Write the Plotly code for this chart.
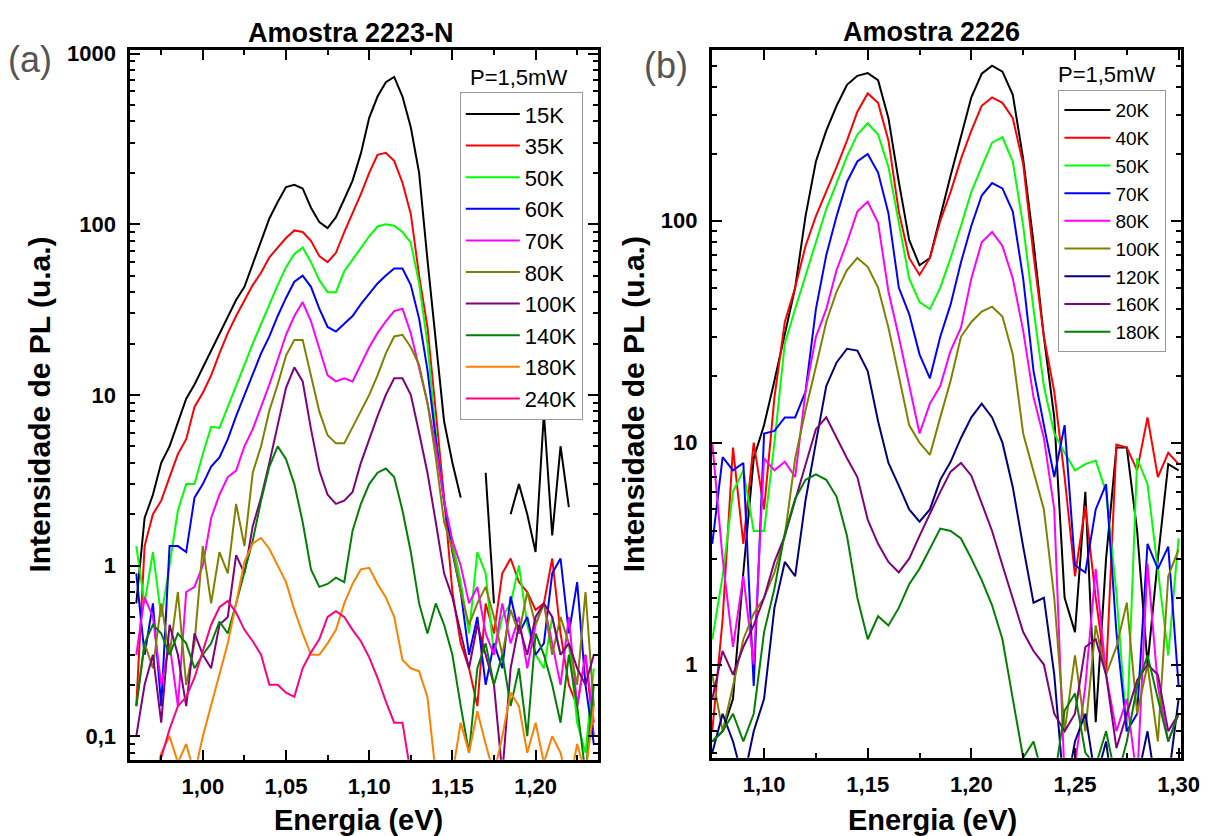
import plotly.graph_objects as go
import math

# ---------------- Panel (a): Amostra 2223-N ----------------
E_A = [0.960, 0.965, 0.970, 0.975, 0.980, 0.985, 0.990, 0.995, 1.000, 1.005,
       1.010, 1.015, 1.020, 1.025, 1.030, 1.035, 1.040, 1.045, 1.050, 1.055,
       1.060, 1.065, 1.070, 1.075, 1.080, 1.085, 1.090, 1.095, 1.100, 1.105,
       1.110, 1.115, 1.120, 1.125, 1.130, 1.135, 1.140, 1.145, 1.150, 1.155,
       1.160, 1.165, 1.170, 1.175, 1.180, 1.185, 1.190, 1.195, 1.200, 1.205,
       1.210, 1.215, 1.220, 1.225, 1.230, 1.235]

A_15K = [0.6, 1.9, 2.6, 4.0, 5.0, 7.0, 9.5, 11.5, 14.5, 18,
         23, 29, 36, 43, 58, 80, 108, 135, 165, 170,
         162, 125, 103, 95, 110, 140, 180, 260, 420, 560,
         680, 730, 560, 370, 200, 62, 20, 7, 4, 2.5,
         None, None, 3.5, 0.6, None, 2.0, 3.0, 2.0, 1.2, 7.8,
         1.5, 5.0, 2.2, None, None, 12]
A_35K = [0.15, 1.3, 2.0, 2.4, 3.3, 4.5, 5.5, 8.5, 10.3, 13,
         17.5, 23, 29, 36, 44, 52, 64, 73, 83, 92,
         90, 80, 65, 60, 68, 90, 115, 150, 200, 255,
         262, 235, 175, 115, 50, 25, 8, 2.5, 0.7, 0.35,
         0.25, 0.15, 0.6, 0.4, 0.9, 1.1, 0.8, 0.7, 0.55, 0.6,
         1.1, 0.4, 0.2, 0.15, 0.3, 0.1]
A_50K = [1.3, 0.6, 1.2, 0.5, 1.0, 2.1, 3.0, 3.0, 4.5, 6.5,
         6.4, 8.5, 11, 15, 20, 26, 34, 44, 56, 67,
         73, 60, 47, 40, 40, 53, 62, 72, 85, 97,
         100, 98, 90, 78, 45, 20, 6, 2.3, 1.4, 0.8,
         0.4, 1.2, 0.9, 0.3, 0.5, 0.6, 1.0, 0.45, 0.3, 0.25,
         0.5, 0.3, 0.35, 0.12, 0.08, 0.25]
A_60K = [0.9, 0.3, 0.6, 0.15, 1.3, 1.3, 1.2, 2.5, 3.0, 3.8,
         4.3, 5.5, 7.5, 10, 13, 17.5, 22, 29, 37, 46,
         50, 43, 32, 25, 23.5, 26, 29, 34, 39, 45,
         50, 55, 55, 44, 28, 14, 5.5, 2.4, 1.2, 0.7,
         0.3, 0.5, 0.2, 0.35, 0.25, 0.66, 0.4, 0.5, 0.3, 0.35,
         0.9, 1.1, 0.4, 0.8, 0.2, 0.09]
A_70K = [0.3, 0.65, 0.5, 0.2, 0.35, 0.15, 0.7, 0.75, 1.0, 1.9,
         2.6, 3.3, 3.6, 5.0, 6.3, 8.5, 11.5, 16, 22.5, 29,
         35, 27, 19, 13, 12, 12.5, 12, 15, 19, 23,
         27, 31, 32, 23, 14.5, 9, 5, 2.4, 1.4, 1.0,
         0.6, 0.75, 0.4, 0.3, 0.6, 0.35, 0.5, 0.25, 0.45, 0.6,
         0.35, 0.2, 0.5, 0.15, 0.3, 0.12]
A_80K = [0.15, 0.35, 0.25, 0.6, 0.3, 0.7, 0.2, 0.35, 1.3, 0.6,
         1.2, 0.9, 2.3, 1.3, 3.5, 5.0, 8.1, 11.5, 17, 21,
         21, 13, 8, 5.8, 5.2, 5.2, 6.5, 8, 10, 13,
         17.5, 22, 22.5, 19, 15, 9, 4.3, 1.8, 1.25, 0.7,
         0.45, 0.6, 0.75, 0.5, 0.3, 0.55, 0.4, 0.7, 0.45, 0.6,
         0.3, 0.5, 0.35, 0.2, 0.7, 0.15]
A_100K = [0.1, 0.2, 0.3, 0.12, 0.45, 0.3, 0.15, 0.4, 0.3, 0.25,
          0.45, 0.5, 1.15, 0.9, 1.7, 2.5, 4.0, 6.5, 11, 14.5,
          12, 6.3, 3.6, 2.6, 2.3, 2.4, 2.7, 4.0, 5.5, 7.5,
          10, 12.5, 12.5, 10, 6, 3.5, 1.8, 0.9, 0.65, 0.4,
          0.25, 0.45, 0.3, 0.2, 0.06, 0.25, 0.45, 0.3, 0.5, 0.6,
          0.5, 0.3, 0.35, 0.25, 0.2, 0.3]
A_140K = [0.15, 0.35, 0.45, 0.4, 0.3, 0.4, 0.35, 0.25, 0.3, 0.35,
          0.47, 0.4, 0.6, 0.9, 1.4, 2.4, 3.8, 5.0, 4.2, 3.0,
          1.8, 0.95, 0.75, 0.78, 0.85, 0.8, 1.6, 2.3, 3.0, 3.5,
          3.7, 3.3, 2.1, 1.2, 0.6, 0.4, 0.6, 0.45, 0.3, 0.15,
          0.08, 0.25, 0.35, 0.2, 0.3, 0.15, 0.25, 0.1, 0.4, 0.3,
          0.2, 0.12, 0.3, 0.15, 0.06, 0.2]
A_180K = [None, None, 0.05, 0.08, 0.1, 0.07, 0.09, 0.06, 0.1, 0.15,
          0.23, 0.35, 0.6, 1.05, 1.35, 1.45, 1.25, 1.0, 0.8, 0.55,
          0.4, 0.3, 0.3, 0.35, 0.42, 0.6, 0.78, 0.95, 0.97, 0.78,
          0.65, 0.5, 0.28, 0.25, 0.24, 0.17, 0.06, None, 0.06, 0.12,
          0.08, 0.14, 0.09, 0.06, 0.1, 0.18, 0.15, 0.08, 0.12, 0.07,
          0.1, 0.08, 0.05, 0.09, 0.06, 0.15]
A_240K = [None, None, None, 0.075, 0.11, 0.15, 0.17, 0.22, 0.32, 0.45,
          0.57, 0.62, 0.53, 0.42, 0.36, 0.3, 0.2, 0.2, 0.18, 0.17,
          0.25, 0.31, 0.37, 0.5, 0.54, 0.5, 0.42, 0.36, 0.29, 0.22,
          0.16, 0.12, 0.12, 0.06, None, None, None, None, None, None,
          None, None, None, None, None, None, None, None, None, None,
          None, None, None, None, None, None]

SERIES_A = [("15K", A_15K), ("35K", A_35K), ("50K", A_50K), ("60K", A_60K),
            ("70K", A_70K), ("80K", A_80K), ("100K", A_100K), ("140K", A_140K),
            ("180K", A_180K), ("240K", A_240K)]
COLORS_A = ["#000000", "#ff0000", "#00ff00", "#0000ff", "#ff00ff",
            "#808000", "#800080", "#008000", "#ff8000", "#ff0080"]

# ---------------- Panel (b): Amostra 2226 ----------------
E_B = [1.075, 1.080, 1.085, 1.090, 1.095, 1.100, 1.105, 1.110, 1.115, 1.120,
       1.125, 1.130, 1.135, 1.140, 1.145, 1.150, 1.155, 1.160, 1.165, 1.170,
       1.175, 1.180, 1.185, 1.190, 1.195, 1.200, 1.205, 1.210, 1.215, 1.220,
       1.225, 1.230, 1.235, 1.240, 1.245, 1.250, 1.255, 1.260, 1.265, 1.270,
       1.275, 1.280, 1.285, 1.290, 1.295, 1.300]

B_20K = [0.45, 0.5, 0.7, 2.6, 8.5, 12, 19, 31, 50, 105,
         185, 255, 330, 410, 450, 463, 430, 290, 150, 82,
         63, 68, 105, 160, 240, 360, 460, 500, 470, 370,
         190, 80, 30, 13, 2, 1.4, 6, 0.55, 3, 9.5,
         9.5, 4, 1.0, 3.0, 8, 7.5]
B_40K = [0.5, 1.6, 9.5, 3.5, 10, 5, 16, 35, 50, 77,
         105, 135, 175, 230, 310, 375, 340, 230, 110, 68,
         57, 68, 100, 135, 190, 255, 330, 360, 340, 290,
         180, 70, 30, 17, 7, 2.5, 5.2, 2.0, 0.9, 9.8,
         9.5, 7.5, 13, 7, 9, 8]
B_50K = [1.3, 2.5, 6, 7.5, 4, 4, 10, 28, 40, 57,
         80, 113, 148, 195, 245, 275, 245, 175, 98, 55,
         43, 40, 50, 68, 95, 135, 175, 225, 238, 185,
         95, 40, 18, 11, 9, 7.5, 8, 8.3, 6, 2.1,
         0.5, 8.5, 6.5, 2.6, 1.1, 3.7]
B_70K = [3.5, 8.6, 7.5, 8.1, 0.8, 11, 11.3, 13, 13, 17,
         40, 70, 105, 150, 185, 200, 165, 108, 50, 38,
         25, 19.5, 30, 42, 65, 95, 130, 148, 140, 110,
         55, 21, 12, 7, 12, 2.8, 2.6, 5, 6.5, 1.4,
         0.5, 0.6, 3.5, 2.7, 3.4, 0.8]
B_80K = [10, 3, 1.2, 2.5, 1.0, 8.5, 7.5, 8.2, 7, 17,
         30, 40, 60, 80, 110, 122, 98, 48, 30, 18,
         11, 15, 18, 26, 33, 55, 80, 89, 77, 55,
         32, 16, 10.5, 5, 0.3, 0.35, 0.8, 2.7, 0.9, 0.5,
         0.7, 0.3, 2.85, 0.8, 0.45, 0.6]
B_100K = [0.9, 0.5, 0.8, 1.3, 1.7, 2.0, 2.6, 3.8, 8.5, 14,
          22, 35, 48, 60, 68, 62, 50, 33, 20, 12,
          10, 8.8, 13, 19, 30, 35, 39, 41, 37, 25,
          11, 7.5, 5, 2.0, 0.5, 1.1, 0.5, 1.5, 0.9, 1.2,
          1.9, 0.6, 1.0, 0.45, 2.5, 3.3]
B_120K = [0.4, 0.6, 0.45, 0.3, 0.5, 0.7, 1.8, 2.9, 2.5, 5.5,
          10, 18, 23, 26.5, 26, 21, 12.5, 8.1, 6.4, 5,
          4.4, 5, 6.8, 8.2, 10.5, 13, 15, 13, 10, 6.3,
          3.4, 1.9, 2.0, 0.9, 0.25, 0.45, 0.6, 0.3, 0.45, 0.2,
          0.35, 0.3, 0.5, 0.25, 0.3, 0.7]
B_160K = [0.7, 1.15, 0.9, 1.2, 1.5, 2.0, 2.9, 3.8, 5.5, 8,
          11.5, 13, 10.5, 8.5, 7, 4.5, 3.5, 2.9, 2.6, 3.0,
          3.8, 4.8, 6.0, 7.4, 8.1, 7.1, 5.3, 4.0, 2.8, 2.0,
          1.4, 1.15, 1.0, 0.6, 0.5, 0.6, 1.2, 1.3, 0.9, 0.42,
          0.6, 0.85, 1.0, 0.9, 0.5, 0.6]
B_180K = [0.45, 0.5, 0.6, 0.45, 0.6, 1.4, 2.2, 3.9, 5.6, 6.8,
          7.2, 6.8, 5.7, 3.8, 2.0, 1.3, 1.65, 1.5, 1.8, 2.3,
          2.7, 3.3, 4.1, 4.0, 3.7, 3.0, 2.4, 1.85, 1.3, 0.7,
          0.38, 0.45, 0.3, 0.3, 0.62, 0.74, 0.4, 0.35, 0.5, 0.3,
          0.45, 0.8, 1.1, 0.7, 0.45, 0.6]

SERIES_B = [("20K", B_20K), ("40K", B_40K), ("50K", B_50K), ("70K", B_70K),
            ("80K", B_80K), ("100K", B_100K), ("120K", B_120K), ("160K", B_160K),
            ("180K", B_180K)]
COLORS_B = ["#000000", "#ff0000", "#00ff00", "#0000ff", "#ff00ff",
            "#808000", "#000080", "#800080", "#008000"]

TICKS_A = [1.00, 1.05, 1.10, 1.15, 1.20]
TICKTEXT_A = ["1,00", "1,05", "1,10", "1,15", "1,20"]
TICKS_B = [1.10, 1.15, 1.20, 1.25, 1.30]
TICKTEXT_B = ["1,10", "1,15", "1,20", "1,25", "1,30"]
YTICKS_A = [0.1, 1, 10, 100, 1000]
YTICKTEXT_A = ["0,1", "1", "10", "100", "1000"]
YTICKS_B = [1, 10, 100]
YTICKTEXT_B = ["1", "10", "100"]

W, H = 1232, 836
FONT = "Arial, Liberation Sans, sans-serif"

fig = go.Figure()
for (name, vals), col in zip(SERIES_A, COLORS_A):
    fig.add_trace(go.Scatter(x=E_A, y=vals, mode="lines", name=name,
                             line=dict(color=col, width=2), xaxis="x", yaxis="y",
                             legend="legend"))
for (name, vals), col in zip(SERIES_B, COLORS_B):
    fig.add_trace(go.Scatter(x=E_B, y=vals, mode="lines", name=name,
                             line=dict(color=col, width=2), xaxis="x2", yaxis="y2",
                             legend="legend2"))

minor_y = [m * 10 ** e for e in range(-2, 4) for m in range(2, 10)]


def px_x(p):
    return p / W


def px_y(p):
    return 1 - p / H


axis_common = dict(showline=True, linewidth=3, linecolor="black", mirror="ticks",
                   ticks="inside", ticklen=10, tickwidth=2, tickcolor="black",
                   showgrid=False, zeroline=False,
                   tickfont=dict(family=FONT, size=22, color="black", weight="bold"))

fig.update_layout(
    width=W, height=H, margin=dict(l=0, r=0, t=0, b=0),
    paper_bgcolor="white", plot_bgcolor="white",
    xaxis=dict(domain=[px_x(132.5), px_x(607)], range=[0.9565, 1.2373], anchor="y",
               tickmode="array", tickvals=TICKS_A, ticktext=TICKTEXT_A,
               minor=dict(tickmode="array", tickvals=[0.975, 1.025, 1.075, 1.125, 1.175, 1.225],
                          ticks="inside", ticklen=5, tickwidth=2, tickcolor="black"),
               ticklabelstandoff=5, **axis_common),
    yaxis=dict(domain=[px_y(759), px_y(42)], type="log",
               range=[math.log10(0.0728), math.log10(1055)], anchor="x",
               tickmode="array", tickvals=YTICKS_A, ticktext=YTICKTEXT_A,
               minor=dict(tickmode="array", tickvals=minor_y, ticks="inside",
                          ticklen=5, tickwidth=2, tickcolor="black"),
               ticklabelstandoff=7, **axis_common),
    xaxis2=dict(domain=[px_x(723), px_x(1199.6)], range=[1.0748, 1.3012], anchor="y2",
                tickmode="array", tickvals=TICKS_B, ticktext=TICKTEXT_B,
                minor=dict(tickmode="array", tickvals=[1.075, 1.125, 1.175, 1.225, 1.275],
                           ticks="inside", ticklen=5, tickwidth=2, tickcolor="black"),
                ticklabelstandoff=5, **axis_common),
    yaxis2=dict(domain=[px_y(757), px_y(42)], type="log",
                range=[math.log10(0.38), math.log10(591)], anchor="x2",
                tickmode="array", tickvals=YTICKS_B, ticktext=YTICKTEXT_B,
                minor=dict(tickmode="array", tickvals=minor_y, ticks="inside",
                           ticklen=5, tickwidth=2, tickcolor="black"),
                ticklabelstandoff=7, **axis_common),
    legend=dict(x=px_x(467), y=px_y(85), xanchor="left", yanchor="top",
                bgcolor="white", bordercolor="#999999", borderwidth=1,
                font=dict(family=FONT, size=22, color="black"),
                itemwidth=54, tracegroupgap=0),
    legend2=dict(x=px_x(1075), y=px_y(83), xanchor="left", yanchor="top",
                 bgcolor="white", bordercolor="#999999", borderwidth=1,
                 font=dict(family=FONT, size=19, color="black"),
                 itemwidth=46, tracegroupgap=0),
)

ann = [
    dict(text="Amostra 2223-N", x=px_x(356), y=px_y(25), size=27, bold=True, color="black"),
    dict(text="Amostra 2226", x=px_x(946), y=px_y(24), size=27, bold=True, color="black"),
    dict(text="(a)", x=px_x(30), y=px_y(52), size=36, bold=False, color="#555555"),
    dict(text="(b)", x=px_x(676), y=px_y(58), size=36, bold=False, color="#555555"),
    dict(text="P=1,5mW", x=px_x(527), y=px_y(70), size=22, bold=False, color="black"),
    dict(text="P=1,5mW", x=px_x(1124), y=px_y(67), size=22, bold=False, color="black"),
    dict(text="Energia (eV)", x=px_x(364), y=px_y(820), size=29, bold=True, color="black"),
    dict(text="Energia (eV)", x=px_x(947), y=px_y(820), size=29, bold=True, color="black"),
]
for a in ann:
    fig.add_annotation(text=a["text"], x=a["x"], y=a["y"], xref="paper", yref="paper",
                       xanchor="center", yanchor="middle", showarrow=False,
                       font=dict(family=FONT, size=a["size"], color=a["color"],
                                 weight="bold" if a["bold"] else "normal"))
for xc in (40, 643):
    fig.add_annotation(text="Intensidade de PL (u.a.)", x=px_x(xc), y=px_y(400),
                       xref="paper", yref="paper", xanchor="center", yanchor="middle",
                       showarrow=False, textangle=-90,
                       font=dict(family=FONT, size=30, color="black", weight="bold"))

fig.write_html("out.html")
